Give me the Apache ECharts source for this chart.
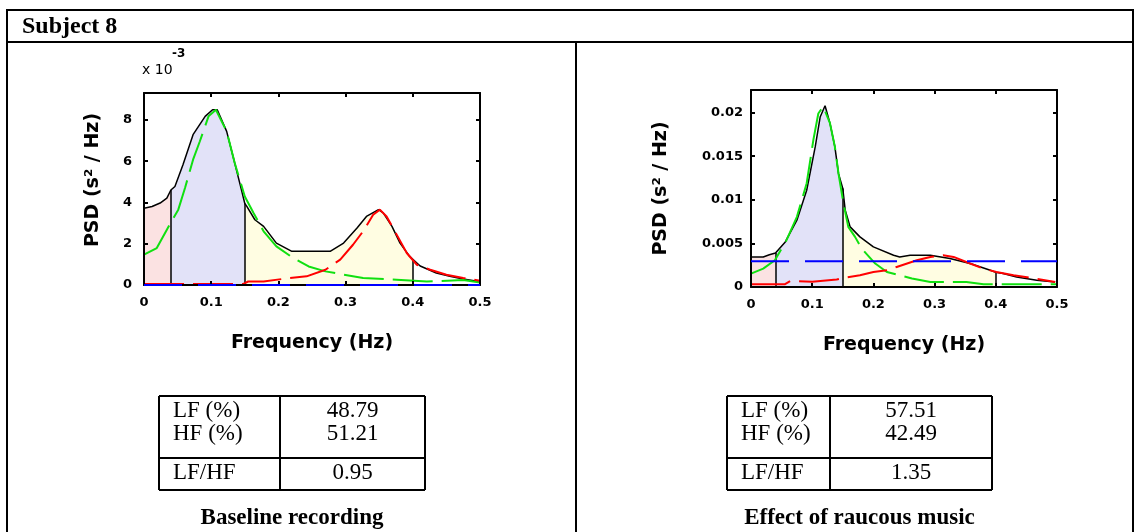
<!DOCTYPE html>
<html>
<head>
<meta charset="utf-8">
<script src="https://cdn.jsdelivr.net/npm/echarts@6/dist/echarts.min.js"></script>
<style>
html,body{margin:0;padding:0;background:#fff;}
#chart{width:1141px;height:532px;}
</style>
</head>
<body>
<div id="chart"></div>
<script>
// ---------------- DATA ----------------
const headerTitle = 'Subject 8';
const panelCaptions = ['Baseline recording', 'Effect of raucous music'];
const tableRowLabels = ['LF (%)', 'HF (%)', 'LF/HF'];
const baselineTableValues = ['48.79', '51.21', '0.95'];
const musicTableValues = ['57.51', '42.49', '1.35'];

const xTickValues = [0, 0.1, 0.2, 0.3, 0.4, 0.5];
const xTickLabels = ['0', '0.1', '0.2', '0.3', '0.4', '0.5'];
const leftYTickValues = [0, 2, 4, 6, 8];            // units of 1e-3
const leftYTickLabels = ['0', '2', '4', '6', '8'];
const rightYTickValues = [0, 0.005, 0.01, 0.015, 0.02];
const rightYTickLabels = ['0', '0.005', '0.01', '0.015', '0.02'];
const bandEdges = [0.04, 0.15, 0.4];                // VLF | LF | HF

// Baseline (units 1e-3 s^2/Hz)
const baseTotal = [[0,3.72],[0.012,3.8],[0.024,3.97],[0.034,4.21],[0.04,4.6],[0.046,4.77],[0.058,5.82],[0.073,7.28],[0.091,8.17],[0.102,8.49],[0.109,8.49],[0.123,7.44],[0.135,5.91],[0.145,4.61],[0.15,3.95],[0.153,3.81],[0.165,3.16],[0.178,2.84],[0.197,2.03],[0.22,1.63],[0.277,1.63],[0.297,2.03],[0.317,2.76],[0.331,3.32],[0.349,3.65],[0.356,3.49],[0.369,2.84],[0.381,2.03],[0.395,1.4],[0.4,1.25],[0.411,0.92],[0.435,0.58],[0.455,0.42],[0.475,0.29],[0.498,0.17]];
const baseGreen = [[0,1.47],[0.019,1.79],[0.034,2.68],[0.051,3.65],[0.061,4.7],[0.073,6.07],[0.083,6.95],[0.096,8.17],[0.107,8.49],[0.123,7.44],[0.135,5.91],[0.15,4.29],[0.163,3.49],[0.178,2.6],[0.197,1.87],[0.222,1.31],[0.245,0.9],[0.27,0.66],[0.326,0.34],[0.376,0.26],[0.421,0.17],[0.475,0.24],[0.5,0.12]];
const baseRed = [[0,0.05],[0.148,0.05],[0.155,0.17],[0.178,0.17],[0.217,0.34],[0.242,0.42],[0.27,0.74],[0.292,1.23],[0.311,1.95],[0.326,2.6],[0.341,3.4],[0.351,3.65],[0.361,3.32],[0.376,2.44],[0.391,1.55],[0.406,0.98],[0.426,0.74],[0.45,0.5],[0.475,0.34],[0.5,0.21]];
const baseBlue = [[0,0],[0.5,0]];

// Raucous music (s^2/Hz)
const musicTotal = [[0,0.00345],[0.02,0.00345],[0.03,0.0037],[0.04,0.0039],[0.056,0.00517],[0.075,0.00767],[0.091,0.0111],[0.105,0.0161],[0.113,0.0195],[0.121,0.0208],[0.129,0.0188],[0.137,0.0161],[0.143,0.013],[0.15,0.0113],[0.154,0.0088],[0.162,0.0069],[0.178,0.00575],[0.2,0.0046],[0.233,0.00364],[0.243,0.00345],[0.26,0.00364],[0.293,0.00364],[0.325,0.00326],[0.358,0.00269],[0.391,0.00192],[0.4,0.0017],[0.412,0.00154],[0.434,0.00115],[0.467,0.00077],[0.497,0.00057]];
const musicGreen = [[0,0.00154],[0.02,0.00211],[0.039,0.00307],[0.058,0.00537],[0.075,0.00805],[0.091,0.0119],[0.102,0.0169],[0.11,0.0199],[0.118,0.0207],[0.129,0.0188],[0.137,0.0161],[0.143,0.013],[0.151,0.0096],[0.159,0.0069],[0.17,0.00575],[0.181,0.0044],[0.203,0.00269],[0.222,0.00172],[0.243,0.00134],[0.263,0.00097],[0.293,0.00057],[0.352,0.00057],[0.38,0.00031],[0.5,0.00031]];
const musicRed = [[0,0.00031],[0.055,0.00031],[0.064,0.00069],[0.1,0.0006],[0.14,0.00085],[0.154,0.00108],[0.178,0.00134],[0.2,0.00172],[0.222,0.00192],[0.238,0.0023],[0.271,0.00307],[0.293,0.00345],[0.314,0.00364],[0.331,0.00345],[0.358,0.00269],[0.38,0.00211],[0.401,0.00172],[0.429,0.00134],[0.456,0.00108],[0.497,0.00057]];
const musicBlue = [[0,0.00295],[0.5,0.00295]];

// ---------------- STYLE ----------------
const COL = { vlf:'#fbe2e2', lf:'#e2e2f8', hf:'#fffde2', green:'#10e010', red:'#ff0000', blue:'#0000ff' };
const tickFont = { fontFamily:'DejaVu Sans', fontWeight:'bold', fontSize:13, color:'#000' };
const nameFont = { fontFamily:'DejaVu Sans', fontWeight:'bold', fontSize:19, color:'#000' };

function labelFmt(vals, labels){
  return v => { const i = vals.findIndex(t => Math.abs(t - v) < 1e-9); return i < 0 ? '' : labels[i]; };
}
function near(arr, x){ const p = arr.find(d => Math.abs(d[0]-x) < 1e-9); return p ? p[1] : 0; }

function xAxes(grid){
  const base = { type:'value', gridIndex:grid, min:0, max:0.5, interval:0.1, z:10,
    splitLine:{show:false},
    axisLine:{show:true, onZero:false, lineStyle:{color:'#000', width:2}},
    axisTick:{show:true, inside:true, length:4, lineStyle:{color:'#000', width:2}} };
  return [
    Object.assign({}, base, { position:'bottom',
      axisLabel:Object.assign({ margin:11, formatter:labelFmt(xTickValues, xTickLabels) }, tickFont),
      name:'Frequency (Hz)', nameLocation:'middle', nameGap:49, nameTextStyle:nameFont }),
    Object.assign({}, base, { position:'top', axisLabel:{show:false} })
  ];
}
function yAxes(grid, max, interval, vals, labels, nameGap, labelMargin, namePad){
  const base = { type:'value', gridIndex:grid, min:0, max:max, interval:interval, z:10,
    splitLine:{show:false},
    axisLine:{show:true, onZero:false, lineStyle:{color:'#000', width:2}},
    axisTick:{show:true, inside:true, length:4, lineStyle:{color:'#000', width:2}} };
  return [
    Object.assign({}, base, { position:'left',
      axisLabel:Object.assign({ margin:labelMargin, formatter:labelFmt(vals, labels) }, tickFont),
      name:'PSD (s\u00B2 / Hz)', nameLocation:'middle', nameGap:nameGap,
      nameTextStyle:Object.assign({ padding:namePad }, nameFont) }),
    Object.assign({}, base, { position:'right', axisLabel:{show:false} })
  ];
}

function panelSeries(axisIdx, total, green, red, blue){
  const ax = { xAxisIndex:axisIdx, yAxisIndex:axisIdx };
  const band = (lo, hi, color) => Object.assign({ type:'line', symbol:'none', silent:true, z:1,
    data: total.filter(d => d[0] >= lo - 1e-9 && d[0] <= hi + 1e-9),
    lineStyle:{width:0}, areaStyle:{color:color, opacity:1} }, ax);
  const line = (data, color, width, type, z) => Object.assign({ type:'line', symbol:'none', silent:true, z:z,
    data:data, lineStyle:{color:color, width:width, type:type} }, ax);
  return [
    band(0, bandEdges[0], COL.vlf),
    band(bandEdges[0], bandEdges[1], COL.lf),
    band(bandEdges[1], bandEdges[2], COL.hf),
    Object.assign({ type:'lines', coordinateSystem:'cartesian2d', silent:true, z:3,
      data: bandEdges.map(b => ({ coords:[[b,0],[b,near(total,b)]] })),
      lineStyle:{color:'#000', width:1.5, opacity:1} }, ax),
    line(total, '#000', 1.5, 'solid', 4),
    line(green, COL.green, 2, [40,9], 5),
    line(red, COL.red, 2, [40,9], 6),
    line(blue, COL.blue, 2, [38,16], 20)
  ];
}

// ---------------- GRAPHICS (frame, header, tables, captions) ----------------
function hline(x1, x2, y, w){ return { type:'line', shape:{x1:x1, y1:y, x2:x2, y2:y}, style:{stroke:'#000', lineWidth:w||2} }; }
function vline(x, y1, y2, w){ return { type:'line', shape:{x1:x, y1:y1, x2:x, y2:y2}, style:{stroke:'#000', lineWidth:w||2} }; }
function txt(s, x, y, font, align){ return { type:'text', style:{ text:s, x:x, y:y, font:font, fill:'#000', textAlign:align||'left', textVerticalAlign:'middle' } }; }

function table(left, mid, right, top, sep, bottom, values, caption, capY){
  const els = [
    hline(left, right, top), hline(left, right, sep), hline(left, right, bottom),
    vline(left, top, bottom), vline(mid, top, bottom), vline(right, top, bottom)
  ];
  const rowY = [411, 434, 473];
  const serif = '23px "Liberation Serif", "Times New Roman", serif';
  tableRowLabels.forEach((l, i) => {
    els.push(txt(l, left + 14, rowY[i], serif, 'left'));
    els.push(txt(values[i], (mid + right) / 2, rowY[i], serif, 'center'));
  });
  els.push(txt(caption, (left + right) / 2, capY, 'bold 23px "Liberation Serif", "Times New Roman", serif', 'center'));
  return els;
}

const graphics = [].concat(
  [ hline(6, 1134, 10), hline(6, 1134, 42), vline(7, 9, 532), vline(1133, 9, 532), vline(576, 42, 532),
    txt(headerTitle, 22, 27, 'bold 24px "Liberation Serif", "Times New Roman", serif', 'left'),
    txt('x 10', 142, 70, '14px "DejaVu Sans"', 'left'),
    txt('-3', 172, 54, 'bold 12px "DejaVu Sans"', 'left') ],
  table(159, 280, 425, 396, 458, 490, baselineTableValues, panelCaptions[0], 518),
  table(727, 830, 992, 396, 458, 490, musicTableValues, panelCaptions[1], 518)
);

const option = {
  backgroundColor:'#fff',
  animation:false,
  grid:[ {left:144, top:93, width:336, height:192}, {left:751, top:90, width:306, height:197} ],
  xAxis: [].concat(xAxes(0), xAxes(1)),
  yAxis: [].concat(
    yAxes(0, 9.3, 2, leftYTickValues, leftYTickLabels, 41, 12, [0,0,0,18]),
    yAxes(1, 0.0226, 0.005, rightYTickValues, rightYTickLabels, 80, 8, 0)
  ),
  series: [].concat(
    panelSeries(0, baseTotal, baseGreen, baseRed, baseBlue),
    panelSeries(2, musicTotal, musicGreen, musicRed, musicBlue)
  ),
  graphic: { elements: graphics }
};
const chart = echarts.init(document.getElementById('chart'), null, {renderer:'canvas'});
chart.setOption(option);
</script>
</body>
</html>
